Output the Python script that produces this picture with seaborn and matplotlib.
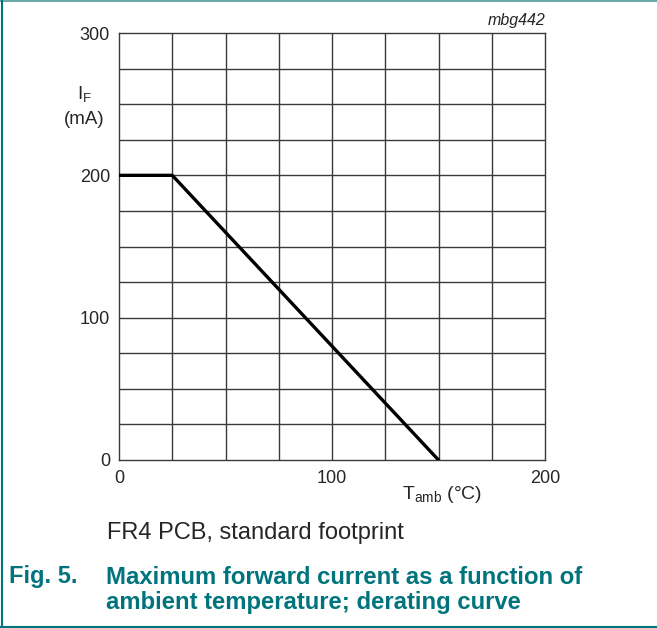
import matplotlib.pyplot as plt
import pandas as pd
import seaborn as sns

# derating curve
temp_c = [0, 25, 150]
current_ma = [200, 200, 0]

x_ticks = [0, 100, 200]
y_ticks = [0, 100, 200, 300]

TEAL = "#00747c"

sns.set_style("white")
plt.rcParams["font.family"] = ["Liberation Sans", "DejaVu Sans"]

df = pd.DataFrame({"T_amb": temp_c, "I_F": current_ma})

fig = plt.figure(figsize=(6.57, 6.28), dpi=100)
ax = fig.add_axes([119 / 657, 1 - 460 / 628, (545 - 119) / 657, (460 - 33) / 628])

# grid every 25 in both directions
for gx in range(25, 200, 25):
    ax.axvline(gx, color="#3a3a3a", lw=1.0, zorder=1)
for gy in range(25, 300, 25):
    ax.axhline(gy, color="#3a3a3a", lw=1.0, zorder=1)

sns.lineplot(data=df, x="T_amb", y="I_F", ax=ax, color="black", lw=2.4, zorder=3)

ax.set_xlim(0, 200)
ax.set_ylim(0, 300)
ax.set_xticks(x_ticks)
ax.set_yticks(y_ticks)
ax.set_xticklabels([str(v) for v in x_ticks])
ax.set_yticklabels([str(v) for v in y_ticks])
ax.tick_params(length=0, labelsize=13)
ax.tick_params(axis="x", pad=7.5)
ax.tick_params(axis="y", pad=6.5)
ax.set_xlabel("")
ax.set_ylabel("")
for s in ax.spines.values():
    s.set_color("#3a3a3a")
    s.set_linewidth(1.0)

fig.text(77 / 657, 1 - 100 / 628, r"I$_\mathregular{F}$", ha="left", va="baseline", fontsize=13.5)
fig.text(84 / 657, 1 - 119 / 628, "(mA)", ha="center", va="center", fontsize=13.5)
fig.text(442 / 657, 1 - 499 / 628, r"T$_\mathregular{amb}$ (°C)", ha="center", va="baseline", fontsize=14)
fig.text(545 / 657, 1 - 25 / 628, "mbg442", ha="right", va="baseline", fontsize=11.5, style="italic")

fig.text(107 / 657, 1 - 533 / 628, "FR4 PCB, standard footprint", ha="left", va="center", fontsize=17)
fig.text(9 / 657, 1 - 577 / 628, "Fig. 5.", ha="left", va="center", fontsize=17,
         fontweight="bold", color=TEAL)
fig.text(106 / 657, 1 - 577 / 628, "Maximum forward current as a function of",
         ha="left", va="center", fontsize=17.2, fontweight="bold", color=TEAL)
fig.text(106 / 657, 1 - 602 / 628, "ambient temperature; derating curve",
         ha="left", va="center", fontsize=17.2, fontweight="bold", color=TEAL)

# frame around the figure: top, left, bottom
fig.add_artist(plt.Line2D([0, 1], [1 - 0.5 / 628] * 2, transform=fig.transFigure, color="#6fa9aa", lw=1.5))
fig.add_artist(plt.Line2D([1.5 / 657] * 2, [0, 1], transform=fig.transFigure, color=TEAL, lw=1.5))
fig.add_artist(plt.Line2D([0, 1], [1 - 627 / 628] * 2, transform=fig.transFigure, color=TEAL, lw=1.5))

fig.savefig("out.png", dpi=100)
